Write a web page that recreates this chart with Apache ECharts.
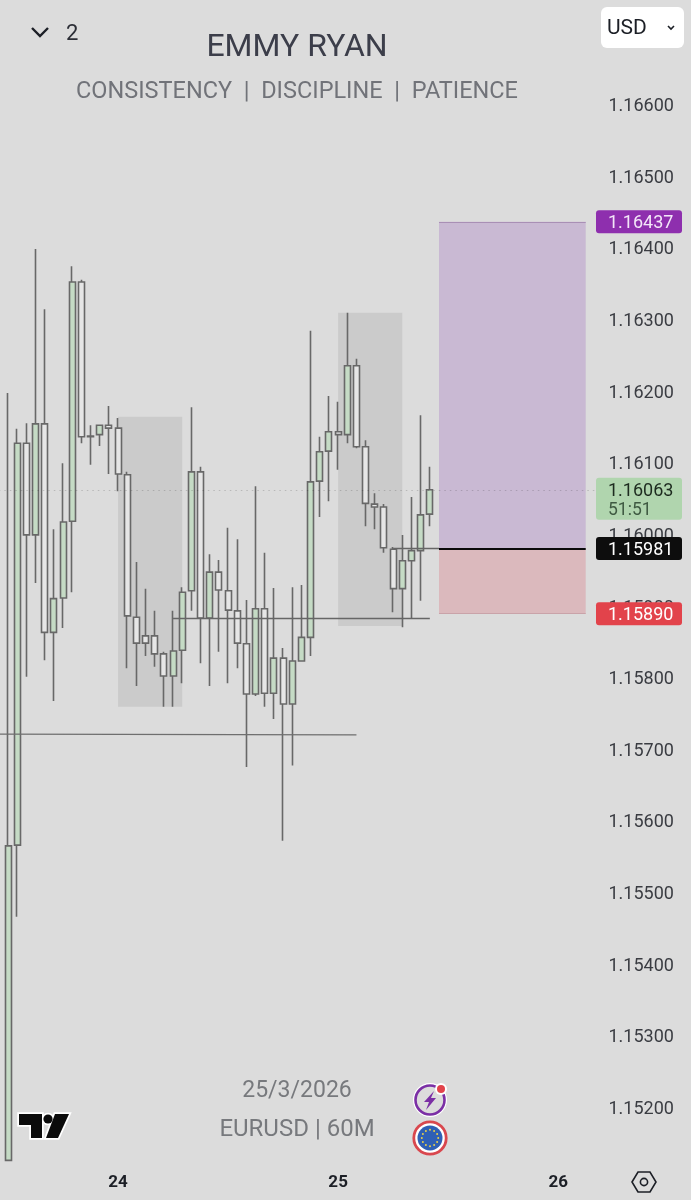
<!DOCTYPE html>
<html>
<head>
<meta charset="utf-8">
<title>EURUSD 60M</title>
<script src="https://cdn.jsdelivr.net/npm/echarts@6/dist/echarts.min.js"></script>
<style>
  html, body { margin: 0; padding: 0; background: #dcdcdc; }
  #main { width: 691px; height: 1200px; }
</style>
</head>
<body>
<div id="main"></div>
<script>
// hourly candles
var opens = [1.15127,1.15567,1.16128,1.16000,1.16155,1.15864,1.15912,1.16019,1.16353,1.16138,1.16140,1.16153,1.16149,1.16084,1.15885,1.15859,
  1.15859,1.15834,1.15803,1.15839,1.15922,1.16088,1.15884,1.15948,1.15922,1.15894,1.15848,1.15778,1.15897,1.15779,1.15828,1.15764,
  1.15824,1.15857,1.16075,1.16117,1.16144,1.16140,1.16236,1.16123,1.16043,1.16039,1.15980,1.15925,1.15964,1.15978,1.16029];
var closes = [1.15566,1.16128,1.16000,1.16155,1.15864,1.15911,1.16018,1.16353,1.16137,1.16137,1.16153,1.16149,1.16085,1.15887,1.15849,1.15849,
  1.15834,1.15803,1.15838,1.15920,1.16088,1.15884,1.15948,1.15923,1.15895,1.15849,1.15778,1.15897,1.15779,1.15828,1.15764,1.15824,
  1.15857,1.16074,1.16116,1.16144,1.16140,1.16236,1.16123,1.16044,1.16039,1.15982,1.15925,1.15964,1.15978,1.16028,1.16063];
var lows = [1.15127,1.15467,1.15802,1.15933,1.15825,1.15768,1.15870,1.15920,1.16128,1.16098,1.16124,1.16085,1.16061,1.15814,1.15789,1.15831,
  1.15816,1.15760,1.15760,1.15793,1.15894,1.15821,1.15789,1.15837,1.15793,1.15814,1.15676,1.15775,1.15760,1.15743,1.15573,1.15678,
  1.15824,1.15831,1.16025,1.16047,1.16091,1.16128,1.16121,1.16012,1.16008,1.15975,1.15892,1.15871,1.15884,1.15908,1.16012];
var highs = [1.16198,1.16148,1.16156,1.16399,1.16315,1.16008,1.16100,1.16375,1.16356,1.16153,1.16153,1.16180,1.16163,1.16088,1.15962,1.15925,
  1.15894,1.15837,1.15894,1.15927,1.16178,1.16095,1.15973,1.15965,1.16010,1.15994,1.15909,1.16068,1.15975,1.15926,1.15842,1.15927,
  1.15930,1.16285,1.16137,1.16194,1.16186,1.16310,1.16246,1.16132,1.16058,1.16043,1.15983,1.16000,1.16053,1.16167,1.16095];

var yTicks = [1.166,1.165,1.164,1.163,1.162,1.161,1.16,1.159,1.158,1.157,1.156,1.155,1.154,1.153,1.152];
var dayLabels = ['24','25','26'];
var dayBars = [13,37,61];   // category index of each day label
var barCount = 66;          // one empty slot on the left, empty slots on the right

// drawn boxes and lines: [bar from, bar to, price, price]
var zoneA = [13,20,1.16165,1.15760];
var zoneB = [37,44,1.16310,1.15873];
var targetPrice = 1.16437, entryPrice = 1.15981, stopPrice = 1.1589, lastPrice = 1.16063;
var rangeBars = [48,64];

// price tags on the axis
var tagPrices = [1.16437,1.16063,1.15981,1.1589];
var tagTexts = ['1.16437','1.16063','1.15981','1.15890'];
var tagSubs = ['','51:51','',''];
var tagFills = ['#8e2fae','#b0d5ae','#0d0d0d','#e2434b'];
var tagColors = ['#f3e6f8','#1d2b1f','#ffffff','#ffffff'];

var categories = [];
for (var i = 0; i < barCount; i++) {
  var d = dayBars.indexOf(i);
  categories.push(d >= 0 ? dayLabels[d] : String(i));
}
var candleData = [['-','-','-','-']];
opens.forEach(function (o, i) {
  candleData.push([o, closes[i], lows[i], highs[i]]);
});

function hline(a, b, p, p2, color, width, type) {
  return [
    {coord:[a,p], lineStyle:{color:color,width:width,type:type||'solid'}},
    {coord:[b,p2===undefined?p:p2]}
  ];
}

var chart = echarts.init(document.getElementById('main'), null, {renderer:'canvas'});
var sans = 'Roboto, sans-serif';

// logo parts are drawn twice, white outline first
var logoStem = [[19,1114],[42,1114],[42,1138],[31,1138],[31,1125],[19,1125]];
var logoSlash = [[55,1114],[69,1114],[58,1138],[46,1138]];

chart.setOption({
  backgroundColor:'#dcdcdc',
  animation:false,
  textStyle:{fontFamily:sans},
  title:[
    {text:'EMMY RYAN',left:297,top:32,padding:0,textAlign:'center',textStyle:{fontSize:32,fontWeight:'normal',color:'#3c3e4a',fontFamily:sans}},
    {text:'CONSISTENCY  |  DISCIPLINE  |  PATIENCE',left:297,top:80,padding:0,textAlign:'center',textStyle:{fontSize:23.5,fontWeight:'normal',color:'#717379',fontFamily:sans}},
    {text:'25/3/2026',left:297,top:1080,padding:0,textAlign:'center',textStyle:{fontSize:23,fontWeight:'normal',color:'#77797d',fontFamily:sans}},
    {text:'EURUSD | 60M',left:297,top:1118,padding:0,textAlign:'center',textStyle:{fontSize:24,fontWeight:'normal',color:'#77797d',fontFamily:sans}}
  ],
  grid:{left:-5.75,top:0,width:605.22,height:1160,outerBoundsMode:'none'},
  xAxis:{
    type:'category',
    data:categories,
    boundaryGap:true,
    axisLine:{show:false},
    axisTick:{show:false},
    splitLine:{show:false},
    axisLabel:{
      interval:function (idx) { return dayBars.indexOf(idx) >= 0; },
      color:'#1c1f26',fontSize:17,fontWeight:'bold',margin:14,fontFamily:sans
    }
  },
  yAxis:{
    type:'value',
    position:'right',
    min:1.151275,
    max:1.167466,
    scale:true,
    axisLine:{show:false},
    axisTick:{show:false},
    splitLine:{show:false},
    axisLabel:{
      customValues:yTicks,
      margin:9,
      formatter:function (v) { return '{p|' + v.toFixed(5) + '}'; },
      rich:{
        p:{padding:[3,0,0,0],color:'#3a3c42',fontSize:18,fontFamily:sans}
      }
    }
  },
  series:[
    {
      // boxes and drawn lines sit under the candles
      type:'line',
      data:[],
      z:1,
      silent:true,
      markArea:{
        silent:true,
        data:[
          [{coord:[zoneA[0],zoneA[2]],itemStyle:{color:'#cbcbcb'}},{coord:[zoneA[1],zoneA[3]]}],
          [{coord:[zoneB[0],zoneB[2]],itemStyle:{color:'#cbcbcb'}},{coord:[zoneB[1],zoneB[3]]}],
          [{coord:[rangeBars[0],targetPrice],itemStyle:{color:'#c9b9d3'}},{coord:[rangeBars[1],entryPrice]}],
          [{coord:[rangeBars[0],entryPrice],itemStyle:{color:'#dbb9bd'}},{coord:[rangeBars[1],stopPrice]}]
        ]
      },
      markLine:{
        silent:true,
        symbol:'none',
        precision:5,
        label:{show:false},
        data:[
          hline(0,barCount-1,lastPrice,undefined,'rgba(0,0,0,0.16)',1,[1.5,4]),
          hline(rangeBars[0],rangeBars[1],targetPrice,undefined,'#a98fb5',1),
          hline(rangeBars[0],rangeBars[1],stopPrice,undefined,'#c9a3a9',1),
          hline(0,39,1.15722,1.15721,'#6f6f6f',1.3),
          hline(19,47,1.15884,undefined,'#666666',1.3),
          hline(43,48,entryPrice,undefined,'#666666',1.3),
          hline(rangeBars[0],rangeBars[1],entryPrice,undefined,'#0b0b0b',1.8)
        ]
      }
    },
    {
      type:'candlestick',
      data:candleData,
      barWidth:6.5,
      z:3,
      itemStyle:{
        color:'#c5dbc5',
        color0:'#e6e6e6',
        borderColor:'#686868',
        borderColor0:'#686868',
        borderWidth:1.6
      }
    },
    {
      // price tags on the right, placed by the value axis
      type:'custom',
      z:20,
      clip:false,
      silent:true,
      data:tagPrices.map(function (p, i) { return [0,p,i]; }),
      encode:{x:0,y:1},
      renderItem:function (params, api) {
        var idx = api.value(2);
        var y = api.coord([0,api.value(1)])[1];
        var sub = tagSubs[idx];
        var top = sub ? y-12 : y-11.5;
        var h = sub ? 42 : 23;
        var kids = [
          {type:'rect',shape:{x:596,y:top,width:86,height:h,r:3},style:{fill:tagFills[idx]}},
          {type:'text',style:{x:608,y:y+1.5,text:tagTexts[idx],fill:tagColors[idx],font:'18px Roboto',textVerticalAlign:'middle'}}
        ];
        if (sub) {
          kids.push({type:'text',style:{x:608,y:y+20.5,text:sub,fill:'#3f5a42',font:'17.5px Roboto',textVerticalAlign:'middle'}});
        }
        return {type:'group',children:kids};
      }
    }
  ],
  graphic:[
    // top left collapse control
    {type:'polyline',shape:{points:[[32,28],[40,36],[48,28]]},style:{stroke:'#1c1f26',lineWidth:2.4,fill:null},z:30},
    {type:'text',style:{x:66,y:34,text:'2',fill:'#2c2e36',font:'22px Roboto',textVerticalAlign:'middle'},z:30},
    // currency box
    {type:'rect',shape:{x:601,y:7,width:83,height:41,r:6},style:{fill:'#ffffff'},z:30},
    {type:'text',style:{x:607,y:29,text:'USD',fill:'#1c1f26',font:'21px Roboto',textVerticalAlign:'middle'},z:31},
    {type:'polyline',shape:{points:[[668,26],[671,29],[674,26]]},style:{stroke:'#1c1f26',lineWidth:1.6,fill:null},z:31},
    // logo
    {type:'polygon',shape:{points:logoStem},style:{fill:'#ffffff',stroke:'#ffffff',lineWidth:3.5},z:30},
    {type:'circle',shape:{cx:48,cy:1119,r:4.6},style:{fill:'#ffffff',stroke:'#ffffff',lineWidth:3.5},z:30},
    {type:'polygon',shape:{points:logoSlash},style:{fill:'#ffffff',stroke:'#ffffff',lineWidth:3.5},z:30},
    {type:'polygon',shape:{points:logoStem},style:{fill:'#0b0b0b'},z:31},
    {type:'circle',shape:{cx:48,cy:1119,r:4.6},style:{fill:'#0b0b0b'},z:31},
    {type:'polygon',shape:{points:logoSlash},style:{fill:'#0b0b0b'},z:31},
    // signal icon
    {type:'circle',shape:{cx:430,cy:1100,r:17},style:{fill:'#ffffff'},z:30},
    {type:'circle',shape:{cx:430,cy:1100,r:14.5},style:{fill:'#dcdcdc',stroke:'#7b2fa5',lineWidth:2.6},z:31},
    {type:'polygon',shape:{points:[[434,1091],[424,1102],[429,1102],[426,1110],[436,1098],[431,1098]]},style:{fill:'#7b2fa5'},z:32},
    {type:'circle',shape:{cx:441,cy:1089,r:6},style:{fill:'#ffffff'},z:32},
    {type:'circle',shape:{cx:441,cy:1089,r:4},style:{fill:'#e2434b'},z:33},
    // euro flag icon
    {type:'circle',shape:{cx:430,cy:1138,r:16.2},style:{fill:'#ffffff',stroke:'#d9474e',lineWidth:2.8},z:30},
    {type:'circle',shape:{cx:430,cy:1138,r:12.5},style:{fill:'#2f5fb5'},z:31},
    {type:'group',z:32,children:[0,30,60,90,120,150,180,210,240,270,300,330].map(function (deg) {
      var a = deg*Math.PI/180;
      return {type:'circle',z:32,shape:{cx:430+8.2*Math.cos(a),cy:1138+8.2*Math.sin(a),r:1},style:{fill:'#e9cf4a'}};
    })},
    // settings hexagon
    {type:'polygon',shape:{points:[[632,1182],[638,1172],[650,1172],[656,1182],[650,1192],[638,1192]]},style:{fill:null,stroke:'#1c1f26',lineWidth:1.6},z:30},
    {type:'circle',shape:{cx:644,cy:1182,r:3.6},style:{fill:null,stroke:'#1c1f26',lineWidth:1.6},z:30}
  ]
});
</script>
</body>
</html>
